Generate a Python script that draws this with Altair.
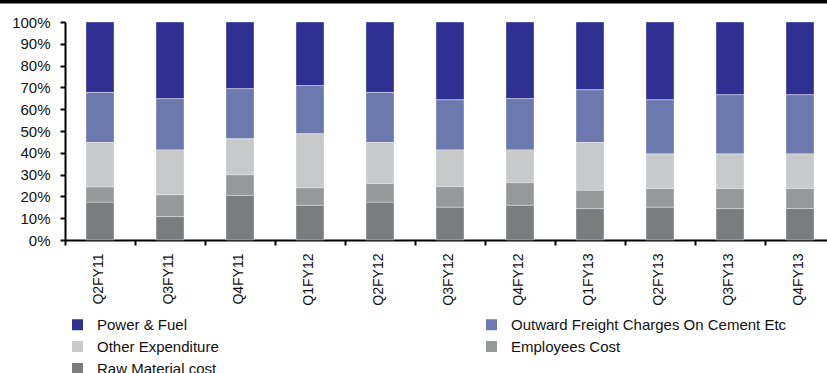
import altair as alt
import pandas as pd

quarters = ["Q2FY11", "Q3FY11", "Q4FY11", "Q1FY12", "Q2FY12", "Q3FY12",
            "Q4FY12", "Q1FY13", "Q2FY13", "Q3FY13", "Q4FY13"]

# Share of total expenditure (%), per quarter
raw_material = [17.3, 10.7, 20.4, 15.9, 17.3, 15.0, 15.9, 14.4, 15.0, 14.4, 14.4]
employees = [7.0, 10.0, 9.5, 8.1, 8.6, 9.5, 10.4, 8.4, 8.6, 9.2, 9.2]
other_exp = [20.4, 20.6, 16.5, 24.7, 18.8, 16.8, 15.0, 21.9, 15.9, 15.9, 15.9]
freight = [23.0, 23.5, 23.0, 22.1, 23.0, 23.0, 23.5, 24.2, 24.8, 27.1, 27.1]
power_fuel = [32.3, 35.2, 30.6, 29.2, 32.3, 35.7, 35.2, 31.1, 35.7, 33.4, 33.4]

series_names = ["Power & Fuel", "Outward Freight Charges On Cement Etc",
                "Other Expenditure", "Employees Cost", "Raw Material cost"]
series_colors = ["#2e3192", "#6b79af", "#c8c9cb", "#97989a", "#7b7c7e"]
series_values = [power_fuel, freight, other_exp, employees, raw_material]

rows = []
for name, vals in zip(series_names, series_values):
    stack_pos = len(series_names) - 1 - series_names.index(name)  # raw material at bottom
    for q, v in zip(quarters, vals):
        rows.append({"quarter": q, "series": name, "share": v / 100.0, "pos": stack_pos})
df = pd.DataFrame(rows)

FONT = "Liberation Sans"

bars = alt.Chart(df).mark_bar(stroke="white", strokeWidth=0.6, strokeOpacity=0.6).encode(
    x=alt.X("quarter:N", sort=quarters, title=None,
            scale=alt.Scale(range=[0, 770], paddingInner=0.6, paddingOuter=0.3),
            axis=alt.Axis(labelAngle=-90, labelFontSize=14, labelFont=FONT,
                          labelColor="#111111", labelPadding=8,
                          tickOffset=-35, labelOffset=33, tickSize=5,
                          tickWidth=2, tickColor="black",
                          domainColor="black", domainWidth=2, grid=False)),
    y=alt.Y("share:Q", stack="zero", title=None,
            scale=alt.Scale(domain=[0, 1], nice=False),
            axis=alt.Axis(format=".0%", values=[i / 10 for i in range(11)],
                          labelFontSize=15, labelFont=FONT, labelColor="#111111",
                          labelPadding=10, tickSize=5, tickWidth=2, tickColor="black",
                          domainColor="black", domainWidth=2, grid=False)),
    color=alt.Color("series:N",
                    scale=alt.Scale(domain=series_names, range=series_colors),
                    legend=alt.Legend(title=None, orient="none", legendX=5, legendY=295,
                                      direction="horizontal",
                                      columns=2, columnPadding=265, rowPadding=6,
                                      symbolType="square", symbolSize=121,
                                      symbolStrokeWidth=0, symbolOpacity=1,
                                      labelFontSize=15, labelFont=FONT,
                                      labelColor="#111111", labelOffset=12,
                                      labelLimit=400)),
    order=alt.Order("pos:Q", sort="ascending"),
)

# thick black band across the very top
top_band = alt.Chart(alt.Data(values=[{}])).mark_rule(color="black", strokeWidth=3.5).encode(
    x=alt.value(-65), x2=alt.value(762), y=alt.value(-20.3)
)

chart = alt.layer(bars, top_band).properties(
    width=762, height=218,
    autosize=alt.AutoSizeParams(type="none"),
    padding={"left": 65, "top": 22, "right": 0, "bottom": 133},
).configure_view(stroke=None)

chart.save("out.html", embed_options={"renderer": "svg", "actions": False})
